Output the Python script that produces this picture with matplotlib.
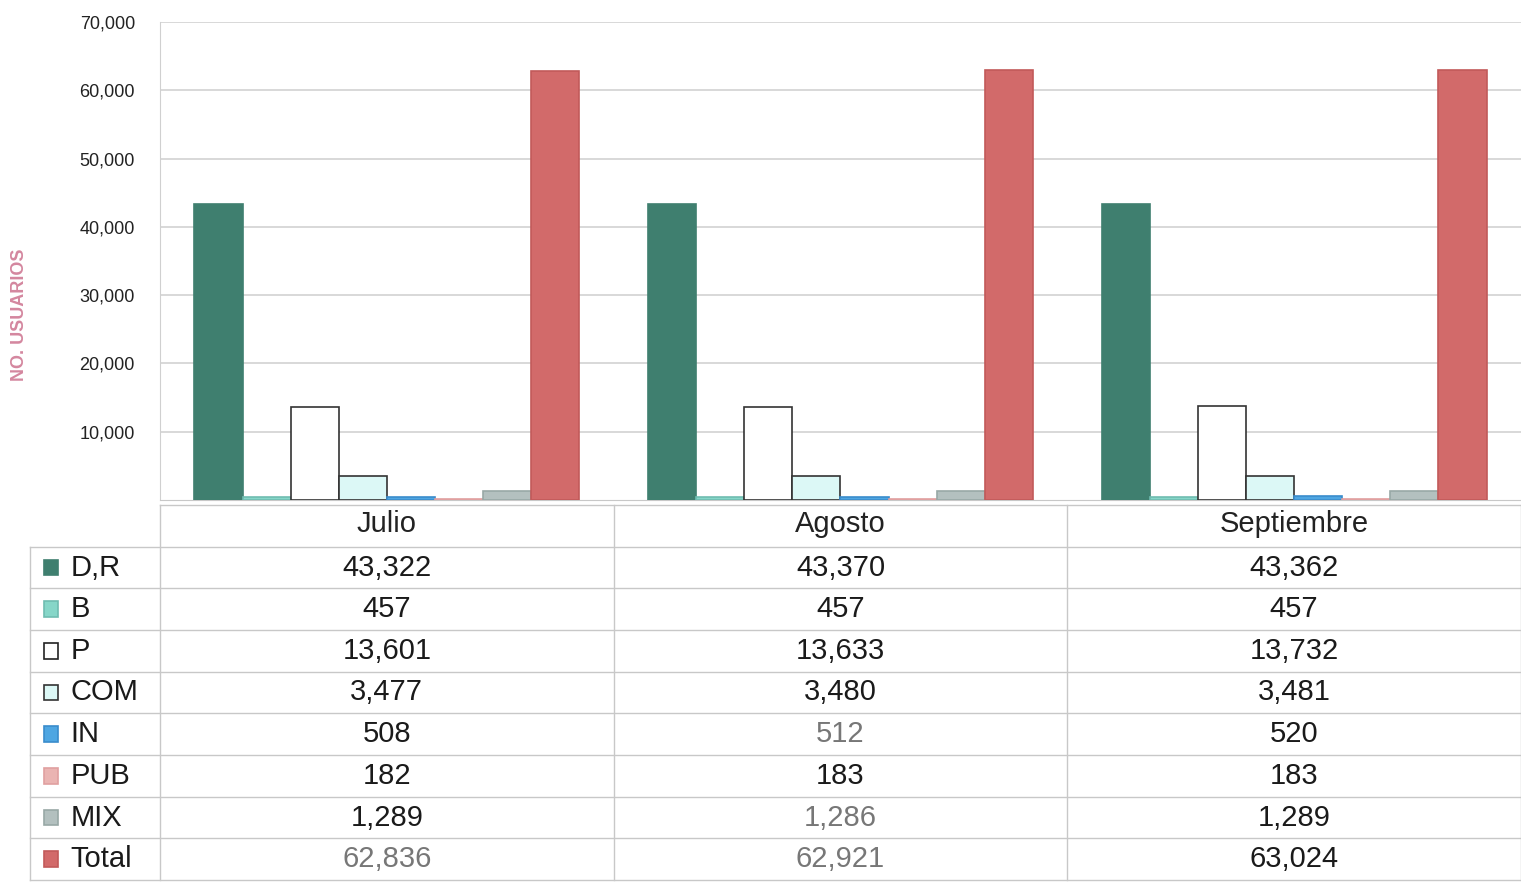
import numpy as np
import matplotlib
matplotlib.use("Agg")
import matplotlib.pyplot as plt
from matplotlib.patches import Rectangle

plt.rcParams['font.family'] = ['Liberation Sans', 'DejaVu Sans']

# data
meses = ['Julio', 'Agosto', 'Septiembre']
series = ['D,R', 'B', 'P', 'COM', 'IN', 'PUB', 'MIX', 'Total']
dr = [43322, 43370, 43362]
b = [457, 457, 457]
p = [13601, 13633, 13732]
com = [3477, 3480, 3481]
inn = [508, 512, 520]
pub = [182, 183, 183]
mix = [1289, 1286, 1289]
total = [62836, 62921, 63024]
valores = [dr, b, p, com, inn, pub, mix, total]

colores = ['#3f7f6f', '#86d6c8', '#ffffff', '#dcf8f6', '#4ea6e2', '#eab4b2', '#b3c0bf', '#d26a6a']
bordes = ['#3f7f6f', '#6fbcb0', '#333333', '#333333', '#3a8ccc', '#e0a0a0', '#98a8a6', '#c25a5a']

W, H = 1521, 893
fig = plt.figure(figsize=(W / 100, H / 100), dpi=100)

def fx(px):
    return px / W

def fy(py):
    return 1 - py / H

left, right = 160, 1521
ax = fig.add_axes([fx(left), fy(500), fx(right - left), fy(22) - fy(500)])

x = np.arange(len(meses))
bw = 0.106
n = len(series)
for i, (vals, c, e) in enumerate(zip(valores, colores, bordes)):
    off = (i - (n - 1) / 2) * bw
    ax.bar(x + off, vals, bw, color=c, edgecolor=e, linewidth=1.2, zorder=3)

ax.set_xlim(-0.5, 2.5)
ax.set_ylim(0, 70000)
ax.set_yticks(range(10000, 70001, 10000))
ax.set_yticklabels([f'{v:,}' for v in range(10000, 70001, 10000)], fontsize=13, color='#222222')
ax.tick_params(axis='y', length=0, pad=18)
ax.set_xticks([])
ax.grid(axis='y', color='#d2d2d2', linewidth=1.2, zorder=0)
for s in ['top', 'right']:
    ax.spines[s].set_visible(False)
ax.spines['left'].set_color('#d0d0d0')
ax.spines['bottom'].set_color('#c8c8c8')
fig.text(fx(20), fy(315), 'NO. USUARIOS', rotation=90, color='#d4879f',
         fontsize=13, fontweight='bold', ha='center', va='center')

# data table under the bars
tab = fig.add_axes([fx(left), fy(880), fx(right - left), fy(505) - fy(880)])
tab.set_xlim(-0.5, 2.5)
nrows = len(series) + 1
tab.set_ylim(nrows, 0)
tab.axis('off')
unit = (right - left) / 3
xl = -0.5 - (left - 30) / unit
lc = '#c8c8c8'

gris = {(7, 0), (4, 1), (6, 1), (7, 1)}
for j, m in enumerate(meses):
    tab.text(x[j], 0.45, m, ha='center', va='center', fontsize=21, color='#222222')
for i, (s, vals) in enumerate(zip(series, valores)):
    r = i + 1
    for j in range(len(meses)):
        col = '#777777' if (i, j) in gris else '#1a1a1a'
        tab.text(x[j], r + 0.5, f'{vals[j]:,}', ha='center', va='center', fontsize=21, color=col)
    tab.text(xl + 0.09, r + 0.5, s, ha='left', va='center', fontsize=21, color='#1a1a1a', clip_on=False)
    sq = 14 / unit
    tab.add_patch(Rectangle((xl + 0.03, r + 0.5 - 0.19), sq, 0.38, facecolor=colores[i],
                            edgecolor=bordes[i] if colores[i] != '#ffffff' else '#222222',
                            linewidth=1.2, clip_on=False))

for r in range(nrows + 1):
    x0 = -0.5 if r == 0 else xl
    tab.plot([x0, 2.5], [r, r], color=lc, linewidth=1, clip_on=False)
for xv in [-0.5, 0.5, 1.5, 2.5]:
    tab.plot([xv, xv], [0, nrows], color=lc, linewidth=1, clip_on=False)
tab.plot([xl, xl], [1, nrows], color=lc, linewidth=1, clip_on=False)

fig.savefig('out.png', dpi=100)
